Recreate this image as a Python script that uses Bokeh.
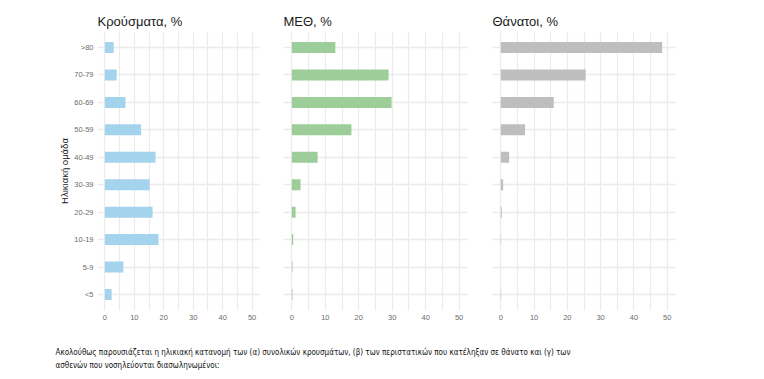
from bokeh.plotting import figure
from bokeh.models import FactorRange, Range1d, FixedTicker, ColumnDataSource
from bokeh.layouts import row, column
from bokeh.embed import file_html
from bokeh.resources import INLINE
from bokeh.core.properties import value

# ---- data (bottom to top) ----
age_groups = ["<5", "5-9", "10-19", "20-29", "30-39", "40-49", "50-59", "60-69", "70-79", ">80"]
cases_pct = [2.3, 6.3, 18.2, 16.2, 15.2, 17.2, 12.3, 7.0, 4.0, 3.0]
icu_pct = [0.2, 0.2, 0.4, 1.1, 2.6, 7.7, 17.8, 29.8, 28.9, 13.0]
deaths_pct = [0.1, 0.0, 0.1, 0.3, 0.7, 2.5, 7.3, 15.9, 25.5, 48.5]
x_ticks = [0, 10, 20, 30, 40, 50]
x_minor = [5, 15, 25, 35, 45]
titles = ["Κρούσματα, %", "ΜΕΘ, %", "Θάνατοι, %"]
y_label = "Ηλικιακή ομάδα"
caption_lines = [
    "Ακολούθως παρουσιάζεται η ηλικιακή κατανομή των (α) συνολικών κρουσμάτων, (β) των περιστατικών που κατέληξαν σε θάνατο και (γ) των",
    "ασθενών που νοσηλεύονται διασωληνωμένοι:",
]
colors = ["#a4d3ee", "#9dcd99", "#bebebe"]

FONT = "Liberation Sans"
GRID = "#ebebeb"


def panel(vals, title, color, width, left, right, show_y):
    p = figure(
        width=width, height=330,
        y_range=FactorRange(factors=age_groups, range_padding=0.017),
        x_range=Range1d(-2.5, 52.5),
        output_backend="svg", toolbar_location=None,
        min_border_left=left, min_border_right=right,
        min_border_top=31, min_border_bottom=20,
        title=title,
    )
    p.title.text_font = FONT
    p.title.text_font_size = "13px"
    p.title.text_font_style = "normal"
    p.title.text_color = "#1a1a1a"
    p.title.offset = 0
    p.title.standoff = 6
    src = ColumnDataSource(dict(y=age_groups, v=vals))
    p.hbar(y="y", left=0, right="v", height=0.4, source=src,
           fill_color=color, line_color=None)
    p.outline_line_color = None
    p.background_fill_color = "white"
    p.border_fill_color = "white"
    p.xaxis.ticker = FixedTicker(ticks=x_ticks, minor_ticks=x_minor)
    p.xaxis.axis_line_color = None
    p.xaxis.major_tick_line_color = None
    p.xaxis.minor_tick_line_color = None
    p.xaxis.major_tick_out = 0
    p.xaxis.minor_tick_out = 0
    p.xaxis.major_label_text_font = FONT
    p.xaxis.major_label_text_font_size = "7.5px"
    p.xaxis.major_label_text_color = "#6b6b6b"
    p.xaxis.major_label_standoff = 4
    p.xgrid.grid_line_color = GRID
    p.xgrid.grid_line_width = 1.2
    p.xgrid.minor_grid_line_color = GRID
    p.xgrid.minor_grid_line_width = 1.2
    p.ygrid.grid_line_color = GRID
    p.ygrid.grid_line_width = 1.4
    p.yaxis.axis_line_color = None
    p.yaxis.major_tick_line_color = None
    p.yaxis.minor_tick_line_color = None
    p.yaxis.major_tick_out = 0
    p.yaxis.minor_tick_out = 0
    if show_y:
        p.yaxis.major_label_text_font = FONT
        p.yaxis.major_label_text_font_size = "7.5px"
        p.yaxis.major_label_text_color = "#6b6b6b"
        p.yaxis.major_label_standoff = 4
        p.yaxis.axis_label = y_label
        p.yaxis.axis_label_text_font = FONT
        p.yaxis.axis_label_text_font_size = "9.5px"
        p.yaxis.axis_label_text_font_style = "normal"
        p.yaxis.axis_label_text_color = "#1a1a1a"
        p.yaxis.axis_label_standoff = 1
    else:
        p.yaxis.visible = False
    return p


p1 = panel(cases_pct, titles[0], colors[0], 270, 97, 11, True)
p2 = panel(icu_pct, titles[1], colors[1], 210, 13, 13, False)
p3 = panel(deaths_pct, titles[2], colors[2], 276, 12, 81, False)

cap = figure(width=756, height=49, x_range=Range1d(0, 756), y_range=Range1d(49, 0),
             output_backend="svg", toolbar_location=None,
             min_border=0, min_border_left=0, min_border_right=0,
             min_border_top=0, min_border_bottom=0)
cap.axis.visible = False
cap.grid.visible = False
cap.outline_line_color = None
cap.text(x=[55, 55], y=[22, 35], text=caption_lines,
         text_font=value("DejaVu Sans Condensed"), text_font_size="8px",
         text_color="#111111", text_baseline="middle", text_align="left")

layout = column(row(p1, p2, p3), cap)
open("out.html", "w").write(file_html(layout, INLINE))
